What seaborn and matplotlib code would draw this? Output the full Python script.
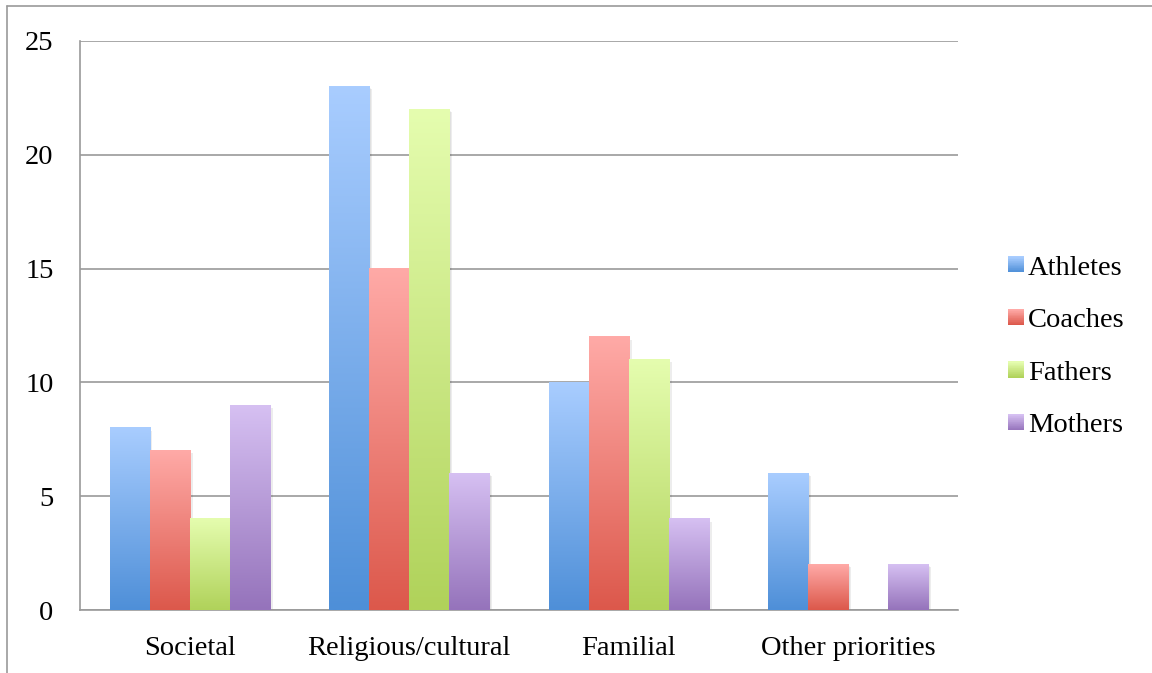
import numpy as np
import pandas as pd
import matplotlib
matplotlib.use("Agg")
import matplotlib.pyplot as plt
import matplotlib.patheffects as pe
from matplotlib.patches import Rectangle
from matplotlib.lines import Line2D
from matplotlib.legend_handler import HandlerBase
from matplotlib.colors import to_rgb
import seaborn as sns

# Data
categories = ["Societal", "Religious/cultural", "Familial", "Other priorities"]
groups = ["Athletes", "Coaches", "Fathers", "Mothers"]
athletes = [8, 23, 10, 6]
coaches = [7, 15, 12, 2]
fathers = [4, 22, 11, 0]
mothers = [9, 6, 4, 2]
y_ticks = [0, 5, 10, 15, 20, 25]

# Gradient colours per group: (top, bottom)
gradients = {
    "Athletes": ("#a9cdff", "#4e8fd8"),
    "Coaches": ("#ffaaa7", "#dc584b"),
    "Fathers": ("#e5fdaf", "#b0d25a"),
    "Mothers": ("#d6c0f2", "#9573bb"),
}

df = pd.DataFrame({
    "category": np.repeat(categories, len(groups)),
    "group": groups * len(categories),
    "value": np.array([athletes, coaches, fathers, mothers]).T.ravel(),
})

sns.set_theme(style="white")
plt.rcParams["font.family"] = ["Liberation Serif", "DejaVu Serif"]
plt.rcParams["text.color"] = "black"

fig = plt.figure(figsize=(11.52, 6.73), dpi=100)
ax = fig.add_axes([80 / 1152, 1 - 610 / 673, (958 - 80) / 1152, (610 - 41) / 673])

palette = {g: gradients[g][1] for g in groups}
sns.barplot(data=df, x="category", y="value", hue="group", order=categories,
            hue_order=groups, palette=palette, width=0.73, gap=0, ax=ax,
            legend=False, errorbar=None)


def gradient_image(top, bottom, n=256):
    t = np.linspace(0, 1, n)[:, None]
    top_rgb, bot_rgb = np.array(to_rgb(top)), np.array(to_rgb(bottom))
    img = top_rgb[None, None, :] * (1 - t[..., None]) + bot_rgb[None, None, :] * t[..., None]
    return img


shadow = [pe.SimplePatchShadow(offset=(2, -2), shadow_rgbFace="black", alpha=0.07),
          pe.SimplePatchShadow(offset=(1, -1), shadow_rgbFace="black", alpha=0.05)]
for g, container in zip(groups, ax.containers):
    top, bottom = gradients[g]
    img = gradient_image(top, bottom)
    for bar in container:
        h = bar.get_height()
        x = bar.get_x()
        w = bar.get_width()
        bar.set_facecolor("none")
        bar.set_edgecolor("none")
        if h <= 0:
            continue
        bar.set_path_effects(shadow)
        bar.set_zorder(2.5)
        ax.imshow(img, extent=[x, x + w, 0, h], aspect="auto", origin="upper",
                  zorder=3, interpolation="bilinear")

ax.set_xlim(-0.5, len(categories) - 0.5)
ax.set_ylim(0, 25)
ax.set_yticks(y_ticks)
ax.set_yticklabels([str(v) for v in y_ticks])
ax.set_xlabel("")
ax.set_ylabel("")
ax.set_axisbelow(True)
ax.yaxis.grid(True, color="#9a9a9a", linewidth=1.2)
ax.xaxis.grid(False)
for side in ["top", "right"]:
    ax.spines[side].set_visible(False)
for side in ["left", "bottom"]:
    ax.spines[side].set_color("#9a9a9a")
    ax.spines[side].set_linewidth(1.2)
ax.tick_params(axis="both", length=0, labelsize=20.5, colors="black")
ax.tick_params(axis="y", pad=19)
ax.tick_params(axis="x", pad=18.5)


class GradientSquare(HandlerBase):
    def __init__(self, top, bottom, n=24):
        super().__init__()
        self.top, self.bottom, self.n = top, bottom, n

    def create_artists(self, legend, orig_handle, xdescent, ydescent,
                       width, height, fontsize, trans):
        size = min(width, height)
        x0 = -xdescent + (width - size) / 2
        y0 = -ydescent + (height - size) / 2
        top, bot = np.array(to_rgb(self.top)), np.array(to_rgb(self.bottom))
        arts = []
        for k in range(self.n):
            f = k / (self.n - 1)
            col = bot * (1 - f) + top * f
            arts.append(Rectangle((x0, y0 + k * size / self.n), size, size / self.n + 0.3,
                                  facecolor=col, edgecolor="none", transform=trans))
        return arts


handles = [Rectangle((0, 0), 1, 1) for _ in groups]
handler_map = {h: GradientSquare(*gradients[g]) for h, g in zip(handles, groups)}
fig.legend(handles, groups, handler_map=handler_map, loc="center left",
           bbox_to_anchor=(1008 / 1152, 1 - 347 / 673), frameon=False,
           fontsize=20.5, handlelength=0.55, handleheight=0.55,
           handletextpad=0.15, labelspacing=0.97, borderpad=0, borderaxespad=0)

# Outer frame lines along the top and left edges
fig.add_artist(Line2D([7 / 1152, 7 / 1152], [0, 1 - 6 / 673], transform=fig.transFigure,
                      color="#9a9a9a", linewidth=1.2))
fig.add_artist(Line2D([7 / 1152, 1], [1 - 6 / 673, 1 - 6 / 673], transform=fig.transFigure,
                      color="#9a9a9a", linewidth=1.2))

fig.savefig("out.png", dpi=100)
